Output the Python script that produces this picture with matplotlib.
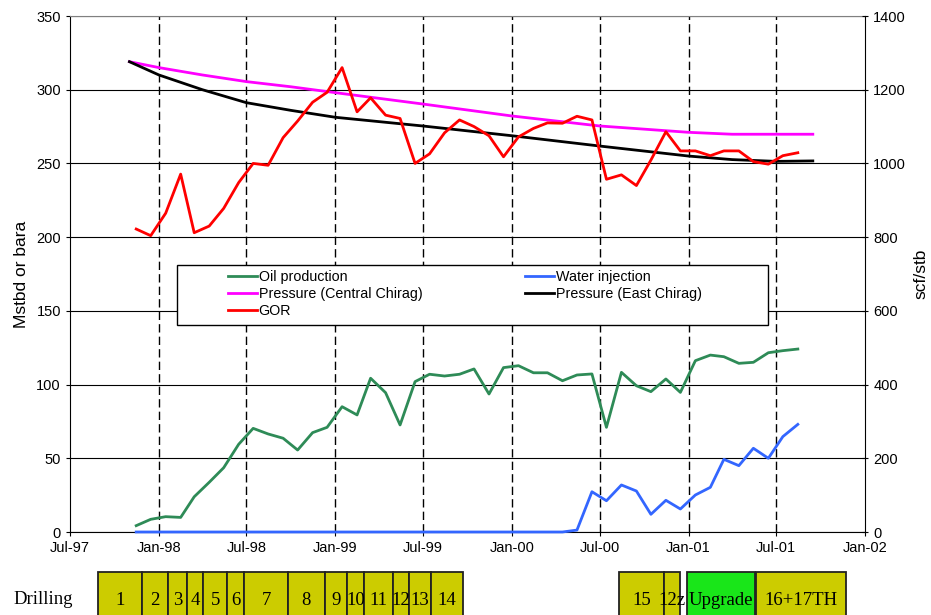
import matplotlib
matplotlib.use('Agg')
import matplotlib.pyplot as plt
import matplotlib.dates as mdates
import matplotlib.patches as patches
import pandas as pd

plt.rcParams['font.family'] = ['Liberation Sans', 'DejaVu Sans']

# Monthly values, mid-month, Nov-97 .. Aug-01
MONTHS = pd.date_range('1997-11-01', periods=46, freq='MS') + pd.Timedelta(days=14)

OIL = [4.3, 8.6, 10.4, 9.9, 23.9, 33.7, 43.6, 59.5, 70.3, 66.5,
       63.6, 55.6, 67.4, 71.0, 85.0, 79.4, 104.3, 94.5, 72.6, 102.0,
       107.0, 105.8, 107.0, 110.6, 93.6, 111.5, 112.8, 108.0, 108.0, 102.6,
       106.5, 107.2, 71.0, 108.3, 99.2, 95.2, 103.8, 94.7, 116.2, 120.0,
       118.9, 114.4, 115.1, 121.6, 123.0, 124.1]

WATER = [0] * 30 + [1.3, 27.3, 21.2, 31.9, 27.8, 12.0, 21.5, 15.6, 25.1, 30.3,
                    49.3, 45.0, 56.8, 50.0, 64.7, 73.0]

# GOR (scf/stb), right axis
GOR = [822, 804, 865, 971, 812, 830, 878, 948, 1000, 995,
       1070, 1115, 1166, 1193, 1260, 1140, 1178, 1131, 1122, 1000,
       1026, 1083, 1118, 1100, 1075, 1018, 1072, 1095, 1110, 1109,
       1128, 1118, 957, 969, 940, 1009, 1086, 1034, 1034, 1021,
       1034, 1034, 1005, 998, 1021, 1029]

# Reservoir pressure (bara)
P_DATES = pd.to_datetime(['1997-11-01', '1998-01-01', '1998-04-01', '1998-07-01',
                          '1998-10-01', '1999-01-01', '1999-07-01', '2000-01-01',
                          '2000-07-01', '2001-01-01', '2001-04-01', '2001-07-01',
                          '2001-09-15'])
P_CENTRAL = [319, 315, 310, 305.5, 302, 298, 290.3, 282.2, 275.4, 271.1, 269.8, 269.8, 269.8]
P_EAST = [319, 310, 300, 291.2, 286, 281.3, 275.4, 268.8, 261.8, 255, 252.6, 251.4, 251.7]

# Drilling schedule
DRILL_NAMES = ['1', '2', '3', '4', '5', '6', '7', '8', '9', '10', '11', '12', '13', '14',
               '15', '12z', 'Upgrade', '16+17TH']
DRILL_START = ['1997-08-28', '1997-11-26', '1998-01-19', '1998-03-01', '1998-04-03',
               '1998-05-22', '1998-06-26', '1998-09-25', '1998-12-10', '1999-01-26',
               '1999-03-01', '1999-04-30', '1999-06-03', '1999-07-18',
               '2000-08-11', '2000-11-12', '2000-12-29', '2001-05-21']
DRILL_END = ['1997-11-26', '1998-01-19', '1998-03-01', '1998-04-03', '1998-05-22',
             '1998-06-26', '1998-09-25', '1998-12-10', '1999-01-26', '1999-03-01',
             '1999-04-30', '1999-06-03', '1999-07-18', '1999-09-22',
             '2000-11-12', '2000-12-14', '2001-05-18', '2001-11-23']

X_START = pd.Timestamp('1997-07-01')
X_END = pd.Timestamp('2002-01-01')


def main():
    fig = plt.figure(figsize=(9.31, 6.15), dpi=100)
    ax = fig.add_axes([70 / 931, 83 / 615, 795 / 931, 516 / 615])
    ax2 = ax.twinx()

    # Left axis series
    l_oil, = ax.plot(MONTHS, OIL, color='#2E8B57', lw=2, zorder=3, label='Oil production')
    l_wat, = ax.plot(MONTHS, WATER, color='#3366FF', lw=2, zorder=3, clip_on=False,
                     label='Water injection')
    l_pc, = ax.plot(P_DATES, P_CENTRAL, color='#FF00FF', lw=2, zorder=3,
                    label='Pressure (Central Chirag)')
    l_pe, = ax.plot(P_DATES, P_EAST, color='black', lw=2, zorder=3,
                    label='Pressure (East Chirag)')
    # Right axis series
    l_gor, = ax2.plot(MONTHS, GOR, color='#FF0000', lw=2, zorder=3, label='GOR')

    ax.set_xlim(X_START, X_END)
    ax.set_ylim(0, 350)
    ax.set_yticks(range(0, 351, 50))
    ax2.set_ylim(0, 1400)
    ax2.set_yticks(range(0, 1401, 200))

    ax.xaxis.set_major_locator(mdates.MonthLocator(bymonth=[1, 7]))
    ax.xaxis.set_major_formatter(mdates.DateFormatter('%b-%y'))

    ax.yaxis.grid(True, color='black', lw=0.8)
    ax.set_axisbelow(True)
    for d in pd.date_range('1998-01-01', '2001-07-01', freq='6MS'):
        ax.axvline(d, color='black', lw=1, linestyle=(0, (6, 3)), zorder=1)

    ax.tick_params(axis='both', direction='out', length=3, labelsize=10.5, colors='black')
    ax2.tick_params(axis='y', direction='inout', length=4, labelsize=10.5, pad=4)
    for s in ['left', 'bottom']:
        ax.spines[s].set_color('black')
    ax.spines['top'].set_color('#808080')
    ax.spines['right'].set_visible(False)
    ax2.spines['right'].set_color('black')
    ax2.spines['top'].set_visible(False)
    ax2.spines['left'].set_visible(False)
    ax2.spines['bottom'].set_visible(False)

    ax.set_ylabel('Mstbd or bara', fontsize=12.5, labelpad=5)
    ax2.set_ylabel('scf/stb', fontsize=12.5, labelpad=5)

    # Legend with separate frame
    frame = patches.Rectangle((0.1346, 0.401), 0.7434, 0.116, transform=ax2.transAxes,
                              facecolor='white', edgecolor='black', lw=1, zorder=4)
    ax2.add_patch(frame)
    handles = [l_oil, l_pc, l_gor, l_wat, l_pe]
    leg = ax2.legend(handles=handles, labels=[h.get_label() for h in handles],
                     loc='upper left', bbox_to_anchor=(0.1825, 0.533), ncol=2,
                     frameon=False, fontsize=10.3, handlelength=2.0, handletextpad=0.15,
                     columnspacing=7.2, labelspacing=0.2, borderpad=0.4)
    leg.set_zorder(5)

    # Drilling schedule strip
    axd = fig.add_axes([70 / 931, 0, 795 / 931, 43 / 615])
    axd.set_xlim(X_START, X_END)
    axd.set_ylim(0, 1)
    axd.axis('off')
    for name, start, end in zip(DRILL_NAMES, DRILL_START, DRILL_END):
        x0 = mdates.date2num(pd.Timestamp(start))
        x1 = mdates.date2num(pd.Timestamp(end))
        color = '#19E619' if name == 'Upgrade' else '#CCCC00'
        rect = patches.Rectangle((x0, -0.6), x1 - x0, 1.6, facecolor=color,
                                 edgecolor='#222222', lw=1.3, clip_on=False, zorder=2)
        axd.add_patch(rect)
        axd.text((x0 + x1) / 2, 0.33, name, ha='center', va='center', fontsize=13.5,
                 family=['Liberation Serif', 'DejaVu Serif'], zorder=3)
    fig.text(13 / 931, 15 / 615, 'Drilling', ha='left', va='center', fontsize=13.5,
             family=['Liberation Serif', 'DejaVu Serif'])

    fig.savefig('out.png', dpi=100)


if __name__ == "__main__":
    main()
